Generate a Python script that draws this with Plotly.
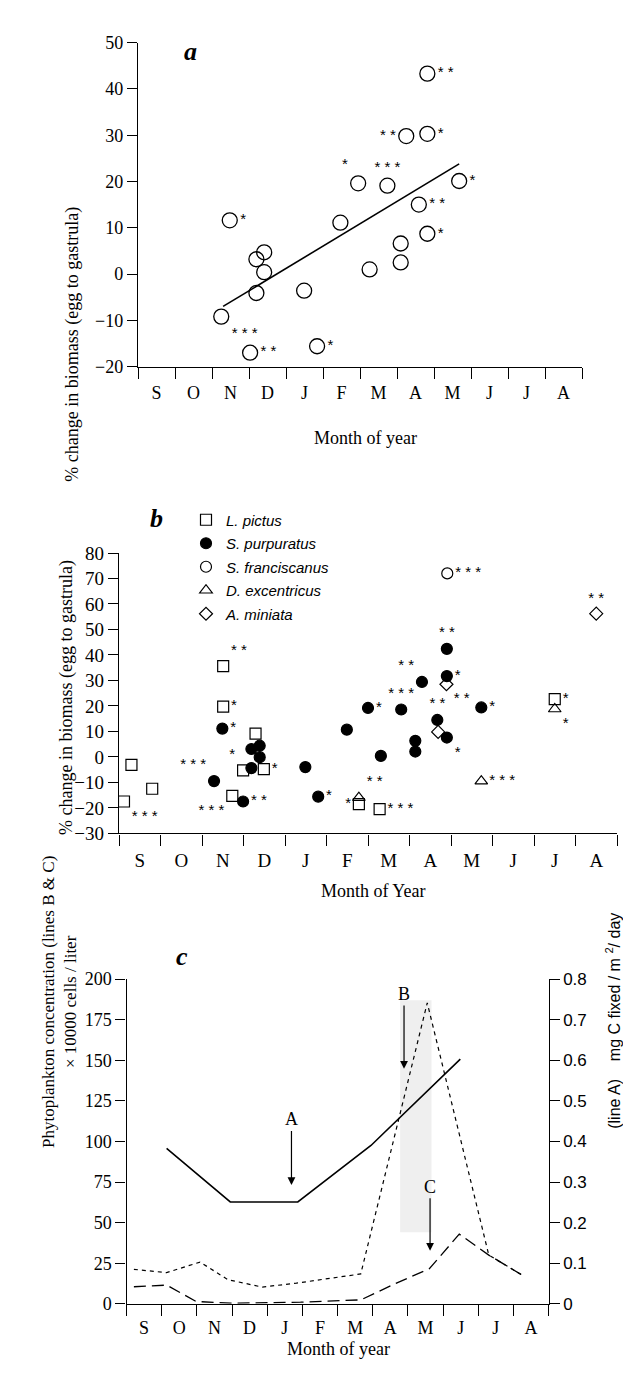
import plotly.graph_objects as go

W, H = 631, 1377
SERIF = "Liberation Serif"
SANS = "Liberation Sans"

months = ["S", "O", "N", "D", "J", "F", "M", "A", "M", "J", "J", "A"]

# ---------------- panel a data ----------------
a_x = [2.48, 2.25, 3.03, 3.41, 3.20, 3.41, 3.20, 4.49, 4.84, 5.47, 5.95, 6.74, 6.26,
       7.10, 7.10, 7.25, 7.82, 7.82, 7.59, 7.82, 8.68]
a_y = [11.6, -9.2, -17.0, 4.7, 3.2, 0.4, -4.1, -3.6, -15.6, 11.1, 19.6, 19.1, 1.0,
       6.6, 2.5, 29.8, 30.3, 43.3, 15.0, 8.7, 20.1]
a_sig = ["*", "***", "**", "", "", "", "", "", "*", "", "*", "***", "",
         "", "", "**", "*", "**", "**", "*", "*"]
a_sigpos = ["middle right", "bottom right", "middle right", "middle right", "middle right",
            "middle right", "middle right", "middle right", "middle right", "middle right",
            "top left", "top center", "middle right", "middle right", "middle right",
            "middle left", "middle right", "middle right", "middle right", "middle right",
            "middle right"]
a_fit_x = [2.30, 8.68]
a_fit_y = [-7.0, 23.8]

# ---------------- panel b data ----------------
lp_x = [0.30, 0.80, 0.12, 2.51, 2.51, 3.29, 2.99, 3.49, 2.73, 5.78, 6.28, 10.5]
lp_y = [-3.1, -12.5, -17.5, 35.6, 19.7, 9.1, -5.3, -4.8, -15.3, -18.5, -20.5, 22.7]
lp_sig = ["", "", "***", "**", "*", "", "*", "*", "***", "*", "***", "*"]
lp_pos = ["middle right", "middle right", "bottom right", "top right", "middle right",
          "middle right", "top left", "middle right", "bottom left", "middle left",
          "middle right", "middle right"]

sp_x = [2.49, 2.29, 2.99, 3.19, 3.39, 3.39, 3.19, 4.49, 4.80, 5.49, 6.00, 6.31, 6.80,
        7.30, 7.14, 7.14, 7.67, 7.90, 7.90, 7.90, 8.73]
sp_y = [11.1, -9.5, -17.5, 3.1, 4.4, -0.1, -4.4, -4.0, -15.6, 10.7, 19.2, 0.4, 18.6,
        29.4, 6.3, 2.1, 14.5, 42.4, 31.7, 7.6, 19.4]
sp_sig = ["*", "***", "**", "", "", "", "", "", "*", "", "*", "", "***",
          "**", "", "", "**", "**", "*", "*", "*"]
sp_pos = ["middle right", "top left", "middle right", "middle right", "middle right",
          "middle right", "middle right", "middle right", "middle right", "middle right",
          "middle right", "middle right", "top center", "top left", "middle right",
          "middle right", "top center", "top center", "middle right", "bottom right",
          "middle right"]

sf_x = [7.91]
sf_y = [72.0]
sf_sig = ["***"]
sf_pos = ["middle right"]

de_x = [5.78, 8.73, 10.5]
de_y = [-16.0, -9.5, 18.8]
de_sig = ["**", "***", "*"]
de_pos = ["top right", "middle right", "bottom right"]

am_x = [7.89, 7.69, 11.5]
am_y = [28.5, 9.8, 56.2]
am_sig = ["**", "", "**"]
am_pos = ["bottom right", "middle right", "top center"]

# ---------------- panel c data ----------------
lineA_x = [1.14, 2.95, 4.87, 6.95, 9.49]
lineA_y = [0.383, 0.251, 0.251, 0.39, 0.603]
lineB_x = [0.21, 1.14, 2.09, 2.89, 3.86, 4.83, 6.66, 8.55, 10.3, 11.3]
lineB_y = [21.2, 19.2, 25.7, 14.8, 10.3, 12.7, 18.4, 185.4, 30.0, 17.0]
lineC_x = [0.21, 1.14, 1.98, 2.97, 4.95, 6.66, 7.69, 8.61, 9.46, 10.3, 11.3]
lineC_y = [10.5, 11.5, 1.4, 0.4, 1.0, 2.4, 12.9, 21.6, 42.9, 30.0, 17.0]
left_ticks = [0, 25, 50, 75, 100, 125, 150, 175, 200]
right_ticks = [0, 0.1, 0.2, 0.3, 0.4, 0.5, 0.6, 0.7, 0.8]
right_ticktext = ["0", "0.1", "0.2", "0.3", "0.4", "0.5", "0.6", "0.7", "0.8"]
bloom_band = [7.78, 8.67, 44, 187]
arrows = {"A": (4.69, 73.2, 113.6), "B": (7.89, 144.8, 190.9), "C": (8.63, 32.7, 72.1)}


def px_x(p):
    return p / W


def px_y(p):
    return 1 - p / H


def sig_text(s):
    return "\u00a0".join(list(s)) if s else " "


STAR = dict(family=SANS, size=15, color="black")

fig = go.Figure()

# panel a
fig.add_trace(go.Scatter(x=a_fit_x, y=a_fit_y, mode="lines", line=dict(color="black", width=1.6),
                         xaxis="x", yaxis="y", showlegend=False))
fig.add_trace(go.Scatter(x=a_x, y=a_y, mode="markers+text",
                         marker=dict(symbol="circle-open", size=15, color="black", line=dict(width=1.3)),
                         text=[sig_text(s) for s in a_sig], textposition=a_sigpos, textfont=STAR,
                         xaxis="x", yaxis="y", showlegend=False))

# panel b
spec = [
    ("<i>L. pictus</i>", lp_x, lp_y, lp_sig, lp_pos, "square-open", 11),
    ("<i>S. purpuratus</i>", sp_x, sp_y, sp_sig, sp_pos, "circle", 11),
    ("<i>S. franciscanus</i>", sf_x, sf_y, sf_sig, sf_pos, "circle-open", 11),
    ("<i>D. excentricus</i>", de_x, de_y, de_sig, de_pos, "triangle-up-open", 11),
    ("<i>A. miniata</i>", am_x, am_y, am_sig, am_pos, "diamond-open", 10),
]
for i, (nm, xs, ys, sg, ps, sym, sz) in enumerate(spec):
    fig.add_trace(go.Scatter(x=xs, y=ys, mode="markers+text", name=nm, legendgroup=str(i),
                             marker=dict(symbol=sym, size=sz, color="black", line=dict(width=1.2, color="black")),
                             text=[sig_text(s) for s in sg], textposition=ps, textfont=STAR,
                             xaxis="x2", yaxis="y2", showlegend=True))

# panel c
fig.add_trace(go.Scatter(x=lineB_x, y=lineB_y, mode="lines", line=dict(color="black", width=1.2, dash="4px,4px"),
                         xaxis="x3", yaxis="y3", showlegend=False))
fig.add_trace(go.Scatter(x=lineC_x, y=lineC_y, mode="lines", line=dict(color="black", width=1.3, dash="12px,6px"),
                         xaxis="x3", yaxis="y3", showlegend=False))
fig.add_trace(go.Scatter(x=lineA_x, y=lineA_y, mode="lines", line=dict(color="black", width=1.6),
                         xaxis="x3", yaxis="y4", showlegend=False))


def month_axis(domain, anchor, fsize, gap=10):
    return dict(domain=domain, anchor=anchor, range=[0, 12], tickmode="array",
                tickvals=[i + 0.5 for i in range(12)], ticktext=months,
                ticks="outside", ticklen=gap, tickcolor="rgba(0,0,0,0)",
                minor=dict(tickmode="array", tickvals=list(range(13)), ticks="outside", ticklen=11,
                           tickwidth=1.3, tickcolor="black"),
                showline=True, linecolor="black", linewidth=1.3, showgrid=False, zeroline=False,
                tickfont=dict(family=SERIF, size=fsize, color="black"))


def val_axis(domain, anchor, rng, vals, fsize):
    return dict(domain=domain, anchor=anchor, range=rng, tickmode="array", tickvals=vals,
                ticks="outside", ticklen=10, tickwidth=1.3, tickcolor="black",
                showline=True, linecolor="black", linewidth=1.3, showgrid=False, zeroline=False,
                tickfont=dict(family=SERIF, size=fsize, color="black"))


fig.update_layout(
    width=W, height=H, margin=dict(l=0, r=0, t=0, b=0),
    paper_bgcolor="white", plot_bgcolor="rgba(0,0,0,0)",
    xaxis=month_axis([px_x(130), px_x(574)], "y", 18),
    yaxis=val_axis([px_y(354), px_y(25)], "x", [-20, 50], [-20, -10, 0, 10, 20, 30, 40, 50], 18),
    xaxis2=month_axis([px_x(111), px_x(609)], "y2", 19),
    yaxis2=val_axis([px_y(828), px_y(543.3)], "x2", [-30, 80], list(range(-30, 81, 10)), 19),
    xaxis3=month_axis([px_x(118.5), px_x(540.6)], "y3", 18, gap=7),
    yaxis3=val_axis([px_y(1305.7), px_y(976)], "x3", [0, 200], left_ticks, 18),
    yaxis4=dict(domain=[px_y(1305.7), px_y(976)], anchor="x3", overlaying="y3", side="right",
                range=[0, 0.8], tickmode="array", tickvals=right_ticks, ticktext=right_ticktext,
                ticks="outside", ticklen=10, tickwidth=1.3, tickcolor="black",
                showline=True, linecolor="black", linewidth=1.3, showgrid=False, zeroline=False,
                tickfont=dict(family=SANS, size=17, color="black")),
    legend=dict(x=px_x(178), y=px_y(493), xanchor="left", yanchor="top", bgcolor="rgba(0,0,0,0)",
                font=dict(family=SANS, size=15, color="black"), tracegroupgap=1, itemwidth=30),
    font=dict(family=SERIF, color="black"),
)

# shaded bloom band
fig.add_shape(type="rect", xref="x3", yref="y3", x0=bloom_band[0], x1=bloom_band[1],
              y0=bloom_band[2], y1=bloom_band[3], fillcolor="#efefef", line=dict(width=0), layer="below")

ann = []
# panel letters
ann.append(dict(text="<b><i>a</i></b>", x=px_x(174), y=px_y(17), xref="paper", yref="paper",
                showarrow=False, font=dict(family=SERIF, size=26)))
ann.append(dict(text="<b><i>b</i></b>", x=px_x(140), y=px_y(508), xref="paper", yref="paper",
                showarrow=False, font=dict(family=SERIF, size=26)))
ann.append(dict(text="<b><i>c</i></b>", x=px_x(166), y=px_y(970), xref="paper", yref="paper",
                showarrow=False, font=dict(family=SERIF, size=26)))
# axis titles
ann.append(dict(text="% change in biomass (egg to gastrula)", x=px_x(52.6), y=px_y(190), xref="paper",
                yref="paper", textangle=-90, showarrow=False, font=dict(family=SERIF, size=18)))
ann.append(dict(text="% change in biomass (egg to gastrula)", x=px_x(46), y=px_y(690), xref="paper",
                yref="paper", textangle=-90, showarrow=False, font=dict(family=SERIF, size=18)))
ann.append(dict(text="Month of year", x=px_x(357), y=px_y(414), xref="paper", yref="paper",
                showarrow=False, font=dict(family=SERIF, size=18)))
ann.append(dict(text="Month of Year", x=px_x(365), y=px_y(887), xref="paper", yref="paper",
                showarrow=False, font=dict(family=SERIF, size=18)))
ann.append(dict(text="Month of year", x=px_x(330), y=px_y(1364), xref="paper", yref="paper",
                showarrow=False, font=dict(family=SERIF, size=18)))
ann.append(dict(text="Phytoplankton concentration (lines B &amp; C)<br>× 10000 cells / liter",
                x=px_x(29), y=px_y(1150), xref="paper", yref="paper", textangle=-90,
                showarrow=False, font=dict(family=SERIF, size=17)))
ann.append(dict(text="(line A)\u00a0\u00a0\u00a0\u00a0mg C fixed / m <sup>2</sup>/ day",
                x=px_x(617), y=px_y(1130), xref="paper", yref="paper", textangle=-90,
                showarrow=False, font=dict(family=SANS, size=16)))
# arrows with their letters at the tail
for lab, (ax_, tip, ly) in arrows.items():
    ann.append(dict(x=ax_, y=tip, ax=ax_, ay=ly, xref="x3", yref="y3", axref="x3", ayref="y3",
                    text=lab, showarrow=True, arrowhead=2, arrowsize=1.3, arrowwidth=1.2,
                    arrowcolor="black", font=dict(family=SERIF, size=18)))
fig.update_layout(annotations=ann)

fig.write_html("out.html")
